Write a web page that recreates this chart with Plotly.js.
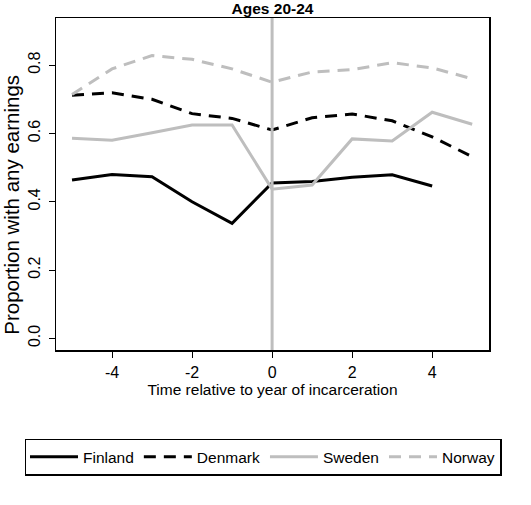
<!DOCTYPE html>
<html>
<head>
<meta charset="utf-8">
<script src="https://cdn.plot.ly/plotly-3.0.1.min.js"></script>
<style>html,body{margin:0;padding:0;background:#fff;}#chart{width:531px;height:505px;}</style>
</head>
<body>
<div id="chart"></div>
<script>
var years = [-5, -4, -3, -2, -1, 0, 1, 2, 3, 4, 5];
var finlandYears = [-5, -4, -3, -2, -1, 0, 1, 2, 3, 4];
var finland = [0.464, 0.480, 0.473, 0.400, 0.337, 0.455, 0.459, 0.472, 0.479, 0.446];
var denmark = [0.712, 0.719, 0.700, 0.658, 0.644, 0.610, 0.646, 0.657, 0.637, 0.590, 0.532];
var sweden = [0.586, 0.580, 0.602, 0.625, 0.625, 0.437, 0.449, 0.584, 0.578, 0.662, 0.627];
var norway = [0.714, 0.789, 0.828, 0.817, 0.789, 0.750, 0.780, 0.787, 0.807, 0.792, 0.760];
var xTicks = [-4, -2, 0, 2, 4];
var xTickText = ['-4', '-2', '0', '2', '4'];
var yTicks = [0, 0.2, 0.4, 0.6, 0.8];

var font = 'Liberation Sans, Arial, sans-serif';
var traces = [
  {x: finlandYears, y: finland, name: 'Finland', legendgroup: 'a', mode: 'lines', line: {color: '#000000', width: 3}},
  {x: years, y: denmark, name: 'Denmark', legendgroup: 'b', mode: 'lines', line: {color: '#000000', width: 3, dash: '12px,8px'}},
  {x: years, y: sweden, name: 'Sweden', legendgroup: 'c', mode: 'lines', line: {color: '#bebebe', width: 3}},
  {x: years, y: norway, name: 'Norway', legendgroup: 'd', mode: 'lines', line: {color: '#bebebe', width: 3, dash: '12px,8px'}}
];
var layout = {
  width: 531, height: 505,
  margin: {l: 56, r: 42, t: 18, b: 155},
  paper_bgcolor: '#ffffff', plot_bgcolor: '#ffffff',
  font: {family: font, color: '#000000'},
  title: {text: '<b>Ages 20-24</b>', font: {size: 15.5, family: font}, x: 0.5, xref: 'paper', y: 0.984, yanchor: 'middle'},
  xaxis: {
    range: [-5.4, 5.42], tickvals: xTicks, ticktext: xTickText, ticks: 'outside', ticklen: 6, tickwidth: 1, tickcolor: '#000',
    showline: true, linecolor: '#000', linewidth: 1.5, mirror: true, showgrid: false, zeroline: false,
    ticklabelstandoff: 1,
    tickfont: {size: 16}, title: {text: 'Time relative to year of incarceration', font: {size: 15.5}, standoff: 0}
  },
  yaxis: {
    range: [-0.034, 0.938], tickvals: yTicks, tickformat: '.1f', tickangle: -90, ticks: 'outside', ticklen: 6, tickwidth: 1, tickcolor: '#000',
    showline: true, linecolor: '#000', linewidth: 1.5, mirror: true, showgrid: false, zeroline: false,
    ticklabelstandoff: 2,
    tickfont: {size: 16}
  },
  annotations: [{
    text: 'Proportion with any earnings', textangle: -90, showarrow: false,
    xref: 'paper', yref: 'paper', x: -0.102, y: 0.437, xanchor: 'center', yanchor: 'middle',
    font: {size: 20.5, family: font, color: '#000'}
  }],
  shapes: [{type: 'line', xref: 'x', yref: 'paper', x0: 0, x1: 0, y0: 0, y1: 1, line: {color: '#bebebe', width: 3}}],
  showlegend: true,
  legend: {
    orientation: 'h', x: -0.0716, xanchor: 'left', y: -0.267, yanchor: 'top',
    bordercolor: '#000', borderwidth: 1.5, font: {size: 15.5}, itemwidth: 48, tracegroupgap: 0
  }
};
Plotly.newPlot('chart', traces, layout, {displayModeBar: false, staticPlot: true});
</script>
</body>
</html>
